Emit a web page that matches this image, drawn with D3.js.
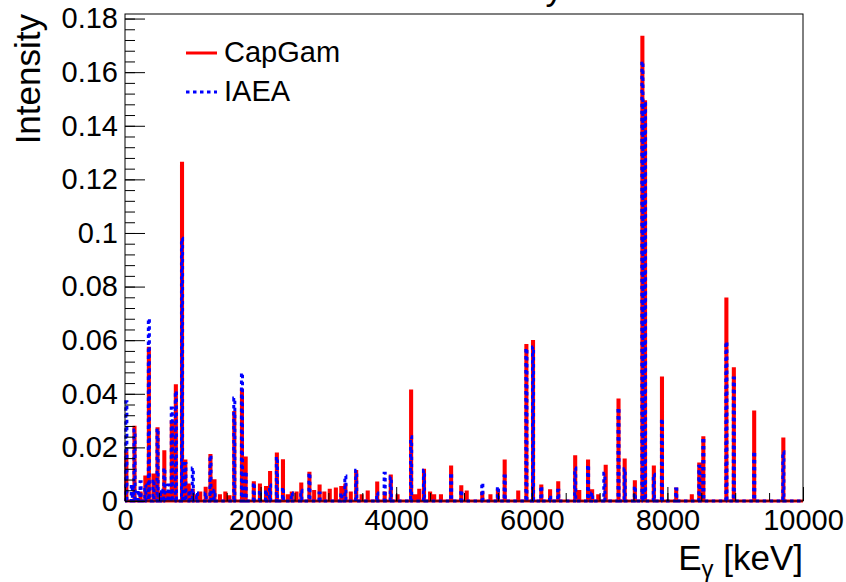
<!DOCTYPE html>
<html>
<head>
<meta charset="utf-8">
<script src="https://cdn.jsdelivr.net/npm/d3@7"></script>
<style>
  body { margin: 0; background: #fff; }
  text { font-family: "Liberation Sans", Arial, sans-serif; }
</style>
</head>
<body>
<script>
// gamma lines: energy (keV) and intensity
const capgamEnergy = [20, 140, 230, 300, 352, 420, 480, 520, 580, 640, 690, 750, 841, 890, 940, 1000, 1060, 1110, 1190, 1260, 1320, 1400, 1480, 1540, 1612, 1725, 1780, 1900, 1990, 2080, 2140, 2240, 2330, 2400, 2460, 2530, 2600, 2720, 2790, 2870, 2940, 3020, 3110, 3190, 3250, 3330, 3410, 3490, 3580, 3720, 3830, 3920, 4020, 4220, 4280, 4340, 4410, 4500, 4560, 4660, 4810, 4960, 5040, 5270, 5390, 5500, 5600, 5800, 5920, 6018, 6140, 6270, 6390, 6640, 6700, 6830, 6890, 6980, 7090, 7279, 7370, 7520, 7631, 7670, 7800, 7920, 8130, 8360, 8470, 8530, 8870, 8980, 9280, 9710]
const capgamIntensity = [0.018, 0.0275, 0.003, 0.009, 0.057, 0.0097, 0.027, 0.003, 0.0184, 0.003, 0.0296, 0.043, 0.126, 0.0149, 0.006, 0.004, 0.002, 0.003, 0.0048, 0.017, 0.0076, 0.002, 0.003, 0.0016, 0.033, 0.0414, 0.016, 0.0068, 0.006, 0.005, 0.0106, 0.0175, 0.015, 0.002, 0.003, 0.003, 0.0063, 0.0104, 0.0035, 0.0056, 0.003, 0.004, 0.0045, 0.005, 0.006, 0.003, 0.011, 0.002, 0.0034, 0.0067, 0.003, 0.0093, 0.002, 0.041, 0.002, 0.004, 0.0115, 0.003, 0.002, 0.002, 0.0127, 0.0053, 0.0034, 0.003, 0.002, 0.004, 0.0149, 0.0034, 0.058, 0.0595, 0.0056, 0.0038, 0.0068, 0.0165, 0.0035, 0.0149, 0.0038, 0.002, 0.013, 0.0377, 0.0153, 0.0072, 0.173, 0.149, 0.0127, 0.0459, 0.0045, 0.002, 0.0138, 0.0236, 0.0754, 0.0493, 0.0332, 0.0231]

const iaeaEnergy = [20, 100, 140, 200, 230, 300, 352, 420, 480, 530, 580, 640, 690, 750, 841, 890, 950, 1000, 1060, 1190, 1260, 1320, 1612, 1725, 1780, 1900, 1990, 2080, 2140, 2240, 2330, 2460, 2600, 2720, 2870, 3190, 3250, 3410, 3720, 3830, 3920, 4220, 4410, 4810, 4960, 5270, 5500, 5600, 5920, 6018, 6140, 6270, 6390, 6640, 6830, 6890, 7070, 7279, 7370, 7520, 7631, 7670, 7800, 7920, 8130, 8470, 8530, 8870, 8980, 9280, 9710]
const iaeaIntensity = [0.037, 0.006, 0.0265, 0.004, 0.0072, 0.006, 0.068, 0.008, 0.027, 0.004, 0.0123, 0.006, 0.0347, 0.041, 0.098, 0.014, 0.004, 0.0123, 0.003, 0.003, 0.017, 0.004, 0.0384, 0.0478, 0.011, 0.0068, 0.004, 0.004, 0.006, 0.0164, 0.005, 0.003, 0.004, 0.0104, 0.003, 0.003, 0.0093, 0.0115, 0.003, 0.0104, 0.009, 0.024, 0.0115, 0.0104, 0.004, 0.0067, 0.0053, 0.0093, 0.057, 0.0575, 0.0055, 0.002, 0.004, 0.0123, 0.0134, 0.003, 0.0104, 0.0347, 0.012, 0.0055, 0.164, 0.149, 0.010, 0.0306, 0.0045, 0.013, 0.0236, 0.0594, 0.0459, 0.0184, 0.0184]

const xMajorTicks = [0, 2000, 4000, 6000, 8000, 10000]
const yMajorTicks = [0, 0.02, 0.04, 0.06, 0.08, 0.1, 0.12, 0.14, 0.16, 0.18]

const w = 846, h = 582
const padL = 125, padR = 803, padT = 14, padB = 501
const binW = 16

const svg = d3.select('body').append('svg')
    .attr('width', w)
    .attr('height', h)

svg.append('rect').attr('width', w).attr('height', h).attr('fill', '#fff')

const xScale = d3.scaleLinear().domain([0, 10000]).range([padL, padR])
const yScale = d3.scaleLinear().domain([0, 0.1817]).range([padB, padT])

// histogram outline: baseline with a narrow bin at every line
function steps(energy, intensity) {
    const pts = [[0, 0]]
    energy.forEach((e, i) => {
        pts.push([e - binW / 2, 0], [e - binW / 2, intensity[i]], [e + binW / 2, intensity[i]], [e + binW / 2, 0])
    })
    pts.push([10000, 0])
    return pts
}

const line = d3.line()
    .x(d => xScale(d[0]))
    .y(d => yScale(d[1]))

svg.append('path')
    .datum(steps(capgamEnergy, capgamIntensity))
    .attr('d', line)
    .attr('fill', 'none')
    .attr('stroke', '#ff0000')
    .attr('stroke-width', 3)
    .attr('stroke-linejoin', 'miter')

svg.append('path')
    .datum(steps(iaeaEnergy, iaeaIntensity))
    .attr('d', line)
    .attr('fill', 'none')
    .attr('stroke', '#0000ff')
    .attr('stroke-width', 3)
    .attr('stroke-dasharray', '3.5,3.5')
    .attr('stroke-linejoin', 'miter')

// frame
svg.append('rect')
    .attr('x', padL).attr('y', padT)
    .attr('width', padR - padL).attr('height', padB - padT)
    .attr('fill', 'none').attr('stroke', '#000').attr('stroke-width', 1)

const fmt = d => d === 0 ? '0' : String(+d.toFixed(2))

// y axis
svg.append('g')
    .attr('transform', `translate(${padL},0)`)
    .call(d3.axisLeft(yScale).tickValues(d3.range(0, 0.1817, 0.004)).tickSize(-10).tickFormat(''))
svg.append('g')
    .attr('transform', `translate(${padL},0)`)
    .call(d3.axisLeft(yScale).tickValues(yMajorTicks).tickSize(-20).tickPadding(7).tickFormat(fmt))

// x axis
svg.append('g')
    .attr('transform', `translate(0,${padB})`)
    .call(d3.axisBottom(xScale).tickValues(d3.range(0, 10001, 500)).tickSize(-8).tickFormat(''))
svg.append('g')
    .attr('transform', `translate(0,${padB})`)
    .call(d3.axisBottom(xScale).tickValues(xMajorTicks).tickSize(-14).tickPadding(8).tickFormat(fmt))

svg.selectAll('.domain').remove()
svg.selectAll('.tick line').attr('stroke', '#000')
svg.selectAll('.tick text')
    .attr('font-family', '"Liberation Sans", Arial, sans-serif')
    .attr('font-size', 29)
    .attr('fill', '#000')

// axis titles
svg.append('text')
    .attr('transform', `translate(40,${padT}) rotate(-90)`)
    .attr('text-anchor', 'end')
    .attr('font-size', 35)
    .text('Intensity')

const xt = svg.append('text')
    .attr('x', padR).attr('y', 570)
    .attr('text-anchor', 'end')
    .attr('font-size', 35)
xt.append('tspan').text('E')
xt.append('tspan').attr('font-size', 24).attr('dy', 7).text('γ')
xt.append('tspan').attr('dy', -7).text(' [keV]')

// title, mostly above the canvas
svg.append('text')
    .attr('x', 563).attr('y', 0)
    .attr('text-anchor', 'end')
    .attr('font-size', 35)
    .text('Gamma Intensity')

// legend
const legend = [
    {name: 'CapGam', color: '#ff0000', dash: null, y: 53},
    {name: 'IAEA', color: '#0000ff', dash: '3.5,3.5', y: 92}
]
legend.forEach(l => {
    svg.append('line')
        .attr('x1', 186).attr('x2', 217)
        .attr('y1', l.y).attr('y2', l.y)
        .attr('stroke', l.color).attr('stroke-width', 3)
        .attr('stroke-dasharray', l.dash)
    svg.append('text')
        .attr('x', 224).attr('y', l.y + 9)
        .attr('font-size', 29)
        .text(l.name)
})
</script>
</body>
</html>
